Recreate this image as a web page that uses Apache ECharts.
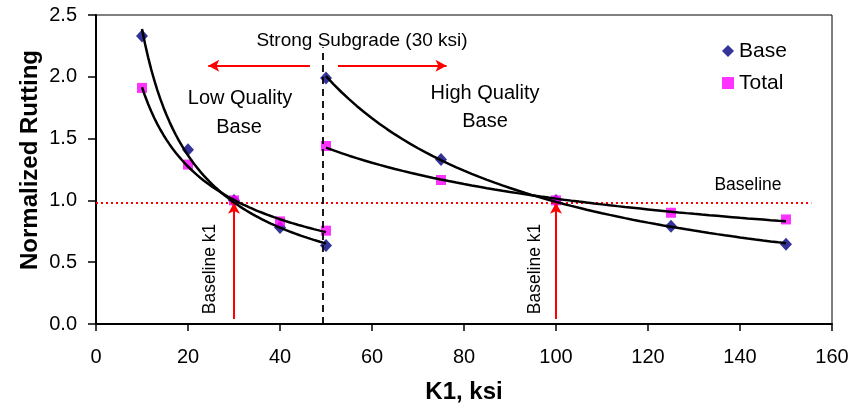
<!DOCTYPE html>
<html><head><meta charset="utf-8">
<script src="https://cdn.jsdelivr.net/npm/echarts@6/dist/echarts.min.js"></script>
<style>html,body{margin:0;padding:0;background:#fff}#c{width:855px;height:409px}</style>
</head><body><div id="c"></div>
<script>
// ---- data ----
const xLow = [10, 20, 30, 40, 50];
const baseLow = [2.33, 1.41, 1.00, 0.78, 0.635];
const totalLow = [1.91, 1.29, 1.00, 0.83, 0.755];
const xHigh = [50, 75, 100, 125, 150];
const baseHigh = [1.99, 1.33, 1.00, 0.79, 0.645];
const totalHigh = [1.44, 1.165, 1.00, 0.90, 0.846];
const xTicks = [0, 20, 40, 60, 80, 100, 120, 140, 160];
const yTicks = [0.0, 0.5, 1.0, 1.5, 2.0, 2.5];
const baselineValue = 0.98;
const baselineK1 = [30, 100];
const subgradeDivider = 49.2;

// power-law least-squares trend line (as a spreadsheet trendline does)
function powerTrend(xs, ys, steps) {
  const n = xs.length;
  let sx = 0, sy = 0, sxx = 0, sxy = 0;
  for (let i = 0; i < n; i++) {
    const lx = Math.log(xs[i]), ly = Math.log(ys[i]);
    sx += lx; sy += ly; sxx += lx * lx; sxy += lx * ly;
  }
  const b = (n * sxy - sx * sy) / (n * sxx - sx * sx);
  const a = Math.exp((sy - b * sx) / n);
  const out = [];
  const x0 = xs[0], x1 = xs[n - 1];
  for (let k = 0; k <= steps; k++) {
    const x = x0 + (x1 - x0) * k / steps;
    out.push([x, a * Math.pow(x, b)]);
  }
  return out;
}
const zip = (xs, ys) => xs.map((x, i) => [x, ys[i]]);

const FONT = 'Liberation Sans, Arial, sans-serif';
const trendStyle = { color: '#000', width: 2.5 };
function trend(xs, ys) {
  return { type: 'line', data: powerTrend(xs, ys, 60), showSymbol: false, symbol: 'none',
    lineStyle: trendStyle, z: 5, silent: true, animation: false, legendHoverLink: false };
}

const chart = echarts.init(document.getElementById('c'), null, { renderer: 'canvas' });
chart.setOption({
  animation: false,
  backgroundColor: '#fff',
  textStyle: { fontFamily: FONT },
  grid: { left: 96, right: 23, top: 15, bottom: 83, show: true, borderColor: '#000', borderWidth: 1 },
  legend: {
    data: [{ name: 'Base', icon: 'diamond' }, { name: 'Total', icon: 'rect' }],
    orient: 'vertical', left: 717, top: 35, itemWidth: 12, itemHeight: 12, itemGap: 10,
    textStyle: { fontSize: 21, color: '#000', fontFamily: FONT, lineHeight: 22 }
  },
  xAxis: {
    type: 'value', min: xTicks[0], max: xTicks[xTicks.length - 1], interval: 20,
    axisLine: { lineStyle: { color: '#000', width: 2 } },
    axisTick: { length: 7, lineStyle: { color: '#000', width: 1.5 } },
    axisLabel: { fontSize: 20, color: '#000', margin: 23, fontFamily: FONT },
    splitLine: { show: false },
    name: 'K1, ksi', nameLocation: 'middle', nameGap: 56,
    nameTextStyle: { fontSize: 24, fontWeight: 'bold', color: '#000', fontFamily: FONT }
  },
  yAxis: {
    type: 'value', min: yTicks[0], max: yTicks[yTicks.length - 1], interval: 0.5,
    axisLine: { lineStyle: { color: '#000', width: 2 } },
    axisTick: { length: 8, lineStyle: { color: '#000', width: 1.5 } },
    axisLabel: { fontSize: 20, color: '#000', margin: 19, fontFamily: FONT, formatter: v => v.toFixed(1) },
    splitLine: { show: false }
  },
  series: [
    {
      name: 'Base', type: 'scatter', symbol: 'diamond', symbolSize: [12, 13],
      itemStyle: { color: '#000080' }, z: 3,
      data: zip(xLow, baseLow).concat(zip(xHigh, baseHigh)),
      markLine: {
        silent: true, animation: false, precision: 4,
        label: { show: false },
        data: [
          [{ coord: [0, baselineValue], symbol: 'none', lineStyle: { color: '#ff0000', width: 2, type: [2, 3] } },
           { coord: [155.5, baselineValue], symbol: 'none' }],
          [{ coord: [subgradeDivider, 0], symbol: 'none', lineStyle: { color: '#000', width: 1.8, type: [7, 5] } },
           { coord: [subgradeDivider, 2.24], symbol: 'none' }],
          [{ coord: [baselineK1[0], 0.04], symbol: 'none', lineStyle: { color: '#ff0000', width: 2, type: 'solid' } },
           { coord: [baselineK1[0], baselineValue], symbol: 'arrow', symbolSize: [9, 11] }],
          [{ coord: [baselineK1[1], 0.04], symbol: 'none', lineStyle: { color: '#ff0000', width: 2, type: 'solid' } },
           { coord: [baselineK1[1], baselineValue], symbol: 'arrow', symbolSize: [9, 11] }],
          [{ coord: [46.5, 2.09], symbol: 'none', lineStyle: { color: '#ff0000', width: 2, type: 'solid' } },
           { coord: [24.4, 2.09], symbol: 'arrow', symbolSize: [9, 11] }],
          [{ coord: [52.6, 2.09], symbol: 'none', lineStyle: { color: '#ff0000', width: 2, type: 'solid' } },
           { coord: [76.2, 2.09], symbol: 'arrow', symbolSize: [9, 11] }]
        ]
      }
    },
    {
      name: 'Total', type: 'scatter', symbol: 'rect', symbolSize: 10,
      itemStyle: { color: '#ff00ff' }, z: 3,
      data: zip(xLow, totalLow).concat(zip(xHigh, totalHigh))
    },
    trend(xLow, baseLow),
    trend(xLow, totalLow),
    trend(xHigh, baseHigh),
    trend(xHigh, totalHigh)
  ],
  graphic: [
    { type: 'text', x: 30, y: 160, rotation: Math.PI / 2, z: 10, style: { text: 'Normalized Rutting', font: 'bold 24px ' + FONT, fill: '#000', textAlign: 'center', textVerticalAlign: 'middle' } },
    { type: 'text', x: 362, y: 41, z: 10, style: { text: 'Strong Subgrade (30 ksi)', font: '19px ' + FONT, fill: '#000', textAlign: 'center', textVerticalAlign: 'middle' } },
    { type: 'text', x: 240, y: 98, z: 10, style: { text: 'Low Quality', font: '20px ' + FONT, fill: '#000', textAlign: 'center', textVerticalAlign: 'middle' } },
    { type: 'text', x: 239, y: 127, z: 10, style: { text: 'Base', font: '20px ' + FONT, fill: '#000', textAlign: 'center', textVerticalAlign: 'middle' } },
    { type: 'text', x: 485, y: 93, z: 10, style: { text: 'High Quality', font: '20px ' + FONT, fill: '#000', textAlign: 'center', textVerticalAlign: 'middle' } },
    { type: 'text', x: 485, y: 121, z: 10, style: { text: 'Base', font: '20px ' + FONT, fill: '#000', textAlign: 'center', textVerticalAlign: 'middle' } },
    { type: 'text', x: 748, y: 185, z: 10, style: { text: 'Baseline', font: '17.5px ' + FONT, fill: '#000', textAlign: 'center', textVerticalAlign: 'middle' } },
    { type: 'text', x: 210, y: 269, rotation: Math.PI / 2, z: 10, style: { text: 'Baseline k1', font: '17.5px ' + FONT, fill: '#000', textAlign: 'center', textVerticalAlign: 'middle' } },
    { type: 'text', x: 535, y: 269, rotation: Math.PI / 2, z: 10, style: { text: 'Baseline k1', font: '17.5px ' + FONT, fill: '#000', textAlign: 'center', textVerticalAlign: 'middle' } }
  ]
});
</script></body></html>
